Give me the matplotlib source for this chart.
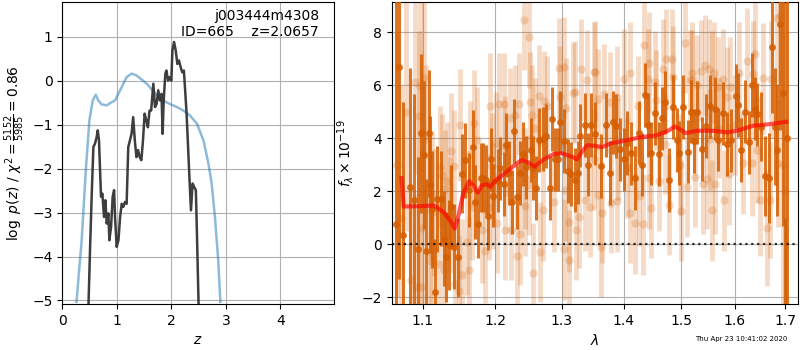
import numpy as np
import matplotlib
matplotlib.use('Agg')
import matplotlib.pyplot as plt
from matplotlib.ticker import NullLocator, FixedLocator, FixedFormatter

# ---- left panel: redshift fit ----
chi2_z = [0.26, 0.355, 0.435, 0.497, 0.558, 0.613, 0.66, 0.72, 0.815, 0.905, 0.967,
          1.06, 1.18, 1.27, 1.36, 1.55, 1.73, 1.85, 1.97, 2.1, 2.22, 2.34, 2.47,
          2.59, 2.68, 2.74, 2.80, 2.86, 2.90]
chi2_val = [-5.03, -3.63, -1.96, -0.90, -0.45, -0.32, -0.45, -0.54, -0.56, -0.49, -0.45,
            -0.22, 0.08, 0.16, 0.12, -0.07, -0.33, -0.45, -0.53, -0.60, -0.68, -0.79, -0.98,
            -1.36, -1.88, -2.34, -3.10, -4.08, -5.03]

pz_z = [0.48, 0.51, 0.54, 0.57, 0.60, 0.63, 0.65, 0.673, 0.69, 0.71, 0.735, 0.765, 0.79,
        0.815, 0.845, 0.863, 0.894, 0.924, 0.95, 0.967, 0.997, 1.03, 1.06, 1.09, 1.12,
        1.15, 1.18, 1.21, 1.24, 1.27, 1.30, 1.33, 1.36, 1.39, 1.42, 1.45, 1.48, 1.51,
        1.54, 1.57, 1.60, 1.63, 1.67, 1.70, 1.73, 1.76, 1.79, 1.82, 1.84, 1.86, 1.89,
        1.91, 1.94, 1.97, 2.0, 2.02, 2.05, 2.08, 2.11, 2.14, 2.17, 2.2, 2.23, 2.25,
        2.28, 2.31, 2.34, 2.36, 2.39, 2.42, 2.45, 2.47, 2.5]
pz_val = [-5.1, -3.78, -2.57, -1.51, -1.43, -1.28, -1.13, -1.36, -1.96, -2.64, -2.57, -3.10,
          -2.72, -3.25, -3.02, -3.63, -3.33, -2.64, -2.49, -3.10, -3.78, -3.63, -3.10, -2.80,
          -2.87, -2.76, -2.80, -1.51, -1.36, -1.21, -0.83, -1.36, -1.74, -1.58, -1.74, -1.81,
          -1.36, -0.75, -0.90, -1.06, -0.68, -0.68, -0.07, -0.60, -0.53, -0.22, -0.45, -0.30,
          -1.21, -0.45, 0.16, 0.23, 0.0, 0.08, 0.0, 0.69, 0.88, 0.69, 0.38, 0.46, 0.31,
          0.19, 0.23, -0.15, -0.75, -1.59, -2.42, -2.95, -2.34, -2.42, -2.49, -3.48, -5.1]

# ---- right panel: spectrum ----
dark_wave = [1.0646, 1.069, 1.0745, 1.0829, 1.089, 1.093, 1.097, 1.101, 1.104, 1.108,
             1.109, 1.112, 1.116, 1.119, 1.124, 1.128, 1.131, 1.135, 1.138, 1.142,
             1.148, 1.153, 1.157, 1.163, 1.168, 1.171, 1.175, 1.179, 1.183, 1.187,
             1.190, 1.194, 1.197, 1.2036, 1.207, 1.212, 1.216, 1.220, 1.224, 1.227,
             1.232, 1.236, 1.240, 1.245, 1.252, 1.256, 1.260, 1.265, 1.271, 1.276,
             1.281, 1.284, 1.289, 1.294, 1.297, 1.304, 1.309, 1.314, 1.320, 1.325,
             1.329, 1.337, 1.342, 1.346, 1.353, 1.362, 1.370, 1.377, 1.383, 1.388,
             1.394, 1.400, 1.406, 1.413, 1.419, 1.426, 1.432, 1.436, 1.441, 1.447,
             1.454, 1.460, 1.466, 1.472, 1.479, 1.485, 1.493, 1.496, 1.503, 1.512,
             1.518, 1.523, 1.529, 1.539, 1.546, 1.554, 1.562, 1.569, 1.577, 1.585,
             1.592, 1.603, 1.607, 1.613, 1.620, 1.627, 1.633, 1.639, 1.644, 1.651,
             1.659, 1.667, 1.674, 1.679, 1.684, 1.690, 1.695, 1.700, 1.703]
dark_flux = [0.77, 6.68, 0.35, 2.15, 1.68, -0.20, 4.19, 3.37, -0.25, 4.19,
             2.25, 1.31, -1.80, 1.72, 1.72, 0.21, -0.47, -0.03, 1.40, -0.10,
             -0.50, 2.66, 3.16, 2.03, 3.65, 1.59, 0.77, 2.50, 2.50, 2.43,
             1.07, 3.20, 1.83, 2.40, 2.86, 2.27, 3.74, 2.69, 1.60, 4.27,
             1.77, 2.69, 3.41, 2.90, 3.56, 2.87, 2.11, 3.93, 3.96, 4.08,
             2.11, 4.73, 3.20, 3.20, 4.60, 3.90, 2.77, 2.65, 2.42, 2.70,
             4.10, 4.50, 3.00, 4.50, 4.17, 2.95, 4.50, 2.69, 4.60, 4.47,
             3.58, 3.20, 3.81, 3.43, 2.49, 4.21, 3.00, 5.63, 4.50, 3.43,
             4.94, 3.41, 4.75, 5.35, 2.42, 5.17, 3.94, 3.45, 5.17, 3.49,
             5.00, 3.90, 4.97, 3.60, 4.47, 5.20, 5.12, 3.95, 4.94, 3.78,
             3.92, 5.60, 5.25, 3.55, 5.00, 3.84, 6.00, 5.12, 4.90, 4.44,
             2.57, 2.49, 7.45, 4.44, 3.55, 8.30, 5.70, -5.0, 4.0]
dark_err = [9.0, 8.0, 5.0, 4.5, 4.0, 3.5, 3.0, 2.8, 2.7, 2.4,
            2.6, 2.2, 2.0, 2.0, 1.8, 1.8, 1.7, 1.7, 1.6, 1.6,
            1.5, 1.5, 1.4, 1.4, 1.4, 1.4, 1.3, 1.3, 1.3, 1.3,
            1.3, 1.2, 1.2, 1.2, 1.2, 1.2, 1.2, 1.2, 1.2, 1.2,
            1.2, 1.2, 1.2, 1.2, 1.2, 1.2, 1.2, 1.2, 1.2, 1.2,
            1.2, 1.2, 1.2, 1.2, 1.2, 1.2, 1.2, 1.2, 1.2, 1.2,
            1.2, 1.2, 1.2, 1.2, 1.2, 1.2, 1.2, 1.2, 1.2, 1.2,
            1.2, 1.2, 1.2, 1.2, 1.2, 1.2, 1.2, 1.2, 1.2, 1.2,
            1.2, 1.2, 1.2, 1.2, 1.2, 1.2, 1.2, 1.2, 1.2, 1.2,
            1.2, 1.2, 1.2, 1.2, 1.2, 1.2, 1.2, 1.2, 1.2, 1.2,
            1.2, 1.2, 1.2, 1.2, 1.2, 1.2, 1.2, 1.2, 1.2, 1.3,
            1.5, 1.7, 2.5, 2.2, 2.5, 4.0, 5.0, 6.0, 12.0]

light_wave = [1.066, 1.072, 1.078, 1.0839, 1.0891, 1.0904, 1.0947, 1.0960, 1.0979, 1.0992,
              1.1013, 1.1036, 1.1093, 1.1102, 1.1124, 1.1146, 1.1213, 1.1226, 1.1258, 1.1281,
              1.1295, 1.1327, 1.1362, 1.1385, 1.1417, 1.1440, 1.1485, 1.1509, 1.1532, 1.1602,
              1.1624, 1.1648, 1.1672, 1.1694, 1.1742, 1.1812, 1.1859, 1.1906, 1.1930, 1.1955,
              1.1969, 1.2017, 1.2027, 1.2050, 1.2122, 1.2135, 1.2147, 1.2220, 1.2230, 1.2293,
              1.2318, 1.2342, 1.2357, 1.2417, 1.2432, 1.2442, 1.2491, 1.2500, 1.2517, 1.2542,
              1.2551, 1.2592, 1.2642, 1.2657, 1.2709, 1.2718, 1.2770, 1.2871, 1.2949, 1.2975,
              1.3026, 1.3035, 1.3053, 1.3069, 1.3105, 1.3116, 1.3174, 1.3210, 1.3226, 1.3263,
              1.3301, 1.3359, 1.3397, 1.3439, 1.3504, 1.3515, 1.3531, 1.3569, 1.3580, 1.3625,
              1.3641, 1.3667, 1.3777, 1.3790, 1.3888, 1.3898, 1.3914, 1.3999, 1.4056, 1.4100,
              1.4110, 1.4196, 1.4253, 1.4270, 1.4338, 1.4356, 1.4425, 1.4435, 1.4442, 1.4466,
              1.4541, 1.4550, 1.4616, 1.4676, 1.4716, 1.4734, 1.4793, 1.4835, 1.4864, 1.4984,
              1.4996, 1.5074, 1.5105, 1.5165, 1.5196, 1.5205, 1.5256, 1.5287, 1.5360, 1.5408,
              1.5440, 1.5471, 1.5520, 1.5533, 1.5565, 1.5576, 1.5607, 1.5626, 1.5688, 1.5707,
              1.5782, 1.5790, 1.5858, 1.5896, 1.5909, 1.6005, 1.6088, 1.6166, 1.6243, 1.6331,
              1.6361, 1.6394, 1.6428, 1.6493, 1.6558, 1.6638, 1.6690, 1.6704, 1.6826, 1.6846,
              1.6893, 1.6960, 1.6990]
light_flux = [3.0, 1.0, 5.0, -1.35, 6.14, -1.60, 4.83, 5.98, -1.60, 0.60,
              6.27, 3.96, -0.33, -0.65, 1.88, 1.20, -0.75, 2.91, 2.60, -0.97,
              2.10, 2.40, 1.10, 3.50, 2.96, -1.50, -1.76, 4.50, -1.16, 0.08,
              -0.96, 3.40, 1.40, 4.58, 3.95, 0.54, -0.24, 1.40, 5.23, 2.94,
              1.80, 3.83, 0.80, 5.30, 5.30, 0.53, 3.70, 4.75, 0.55, 4.88,
              -0.45, 5.30, 0.37, 8.46, 1.44, 2.48, 7.81, 2.23, 5.37, 4.88,
              -1.10, 4.38, 5.60, -0.30, 1.28, 5.40, 5.20, 1.60, 6.64, 5.57,
              6.68, -0.20, 2.03, 5.13, 0.85, -0.60, 5.72, 5.76, 0.53, 1.01,
              6.60, 1.65, 6.20, 1.40, 6.50, 3.20, 6.51, 5.47, 1.86, -0.10,
              1.19, 5.67, 5.35, 1.57, 5.57, 1.61, 3.58, 6.22, 2.87, 6.47,
              1.17, 0.79, 5.22, 1.82, 0.75, 7.52, 6.22, 2.49, 6.85, 1.36,
              6.13, 5.44, 2.40, 6.60, 3.78, 6.98, 1.48, 6.98, 6.32, 3.00,
              1.27, 7.60, 2.17, 6.18, 6.47, 6.20, 2.53, 6.00, 6.55, 2.28,
              6.76, 2.47, 6.60, 3.96, 6.15, 1.28, 6.47, 2.28, 5.93, 4.39,
              6.22, 1.65, 5.55, 2.63, 5.93, 4.50, 6.47, 3.05, 6.93, 3.05,
              6.41, 7.18, 3.55, 1.65, 6.26, 0.61, 1.66, 6.22, 8.54, 3.05,
              8.63, 3.0, 2.0]
light_err = [5.0, 5.0, 4.5, 3.5, 3.5, 3.5, 3.2, 3.2, 3.0, 3.0,
             2.9, 2.8, 2.6, 2.6, 2.4, 2.4, 2.3, 2.3, 2.3, 2.2,
             2.2, 2.2, 2.2, 2.2, 2.1, 2.1, 2.1, 2.1, 2.1, 2.0,
             2.0, 2.0, 2.0, 2.0, 2.0, 2.0, 2.0, 2.0, 2.0, 2.0,
             2.0, 1.9, 1.9, 1.9, 1.9, 1.9, 1.9, 1.9, 1.9, 1.9,
             1.9, 1.9, 1.9, 1.9, 1.9, 1.9, 1.9, 1.9, 1.9, 1.9,
             1.9, 1.9, 1.9, 1.9, 1.9, 1.9, 1.9, 1.9, 1.9, 1.9,
             1.9, 1.9, 1.9, 1.9, 1.9, 1.9, 1.9, 1.9, 1.9, 1.9,
             1.9, 1.9, 1.9, 1.9, 1.9, 1.9, 1.9, 1.9, 1.9, 1.9,
             1.9, 1.9, 1.9, 1.9, 1.9, 1.9, 1.9, 1.9, 1.9, 1.9,
             1.9, 1.9, 1.9, 1.9, 1.9, 1.9, 1.9, 1.9, 1.9, 1.9,
             1.9, 1.9, 1.9, 1.9, 1.9, 1.9, 1.9, 1.9, 1.9, 1.9,
             1.9, 1.9, 1.9, 1.9, 1.9, 1.9, 1.9, 1.9, 1.9, 1.9,
             1.9, 1.9, 1.9, 1.9, 1.9, 1.9, 1.9, 1.9, 1.9, 1.9,
             1.9, 1.9, 1.9, 1.9, 1.9, 1.9, 1.9, 1.9, 2.0, 2.0,
             2.0, 2.0, 2.0, 2.1, 2.1, 2.2, 2.2, 2.2, 2.4, 2.4,
             2.6, 7.0, 8.0]

model_wave = [1.0723, 1.075, 1.093, 1.115, 1.128, 1.137, 1.143, 1.148, 1.155, 1.163,
              1.169, 1.175, 1.181, 1.188, 1.193, 1.200, 1.212, 1.227, 1.239, 1.249,
              1.258, 1.272, 1.287, 1.300, 1.316, 1.324, 1.332, 1.340, 1.351, 1.364,
              1.378, 1.400, 1.428, 1.457, 1.477, 1.489, 1.498, 1.509, 1.529, 1.559,
              1.585, 1.604, 1.636, 1.669, 1.702]
model_flux = [2.49, 1.42, 1.43, 1.46, 1.20, 0.88, 0.59, 1.07, 1.95, 2.38,
              2.20, 1.95, 2.23, 2.26, 2.17, 2.39, 2.64, 2.95, 3.18, 3.08,
              2.93, 3.20, 3.40, 3.43, 3.30, 3.20, 3.50, 3.73, 3.72, 3.66,
              3.80, 3.90, 4.03, 4.11, 4.28, 4.44, 4.34, 4.19, 4.28, 4.28,
              4.22, 4.28, 4.47, 4.53, 4.62]

lam_ticks = [1.1, 1.2, 1.3, 1.4, 1.5, 1.6, 1.7]
g141_color = (0.835, 0.369, 0.0)

fig = plt.figure(figsize=(8, 3.5), dpi=100)
ax1 = fig.add_axes([0.0779, 0.1314, 0.3393, 0.8643])
ax2 = fig.add_axes([0.4895, 0.1314, 0.5084, 0.8643])

# redshift panel
ax1.plot(chi2_z, chi2_val, color='tab:blue', alpha=0.5, lw=1.8)
ax1.plot(pz_z, pz_val, color='0.2', lw=1.8, alpha=0.95)
ax1.set_xlim(0, 4.98)
ax1.set_ylim(-5.08, 1.80)
ax1.grid(True)
ax1.set_xlabel('$z$')
ax1.set_ylabel(r'$\log\ p(z)$ / $\chi^2=\frac{5152}{5985}=0.86$')
ax1.text(0.945, 0.975, 'j003444m4308\nID=665    z=2.0657', transform=ax1.transAxes,
         ha='right', va='top', fontsize=10)

# spectrum panel
ax2.errorbar(light_wave, light_flux, yerr=light_err, fmt='o', color=g141_color,
             alpha=0.22, ms=6, elinewidth=3.5, capsize=0, mew=0, zorder=2)
ax2.errorbar(dark_wave, dark_flux, yerr=dark_err, fmt='o', color=g141_color,
             alpha=0.85, ms=5, elinewidth=2.2, capsize=0, mew=0, zorder=3)
ax2.plot(model_wave, model_flux, color='r', alpha=0.65, lw=3, zorder=4)
ax2.axhline(0, color='k', linestyle=':', lw=1.6, alpha=0.8, zorder=5)

ax2.set_xscale('log')
ax2.set_xlim(1.0595, 1.727)
ax2.set_ylim(-2.26, 9.16)
ax2.xaxis.set_major_locator(FixedLocator(lam_ticks))
ax2.xaxis.set_major_formatter(FixedFormatter([f'{t:.1f}' for t in lam_ticks]))
ax2.xaxis.set_minor_locator(NullLocator())
ax2.grid(True)
ax2.set_xlabel(r'$\lambda$')
ax2.set_ylabel(r'$f_\lambda\times10^{-19}$')

fig.text(0.984, 0.031, 'Thu Apr 23 10:41:02 2020', ha='right', va='center', fontsize=5)

plt.savefig('out.png', dpi=100)
plt.close()
